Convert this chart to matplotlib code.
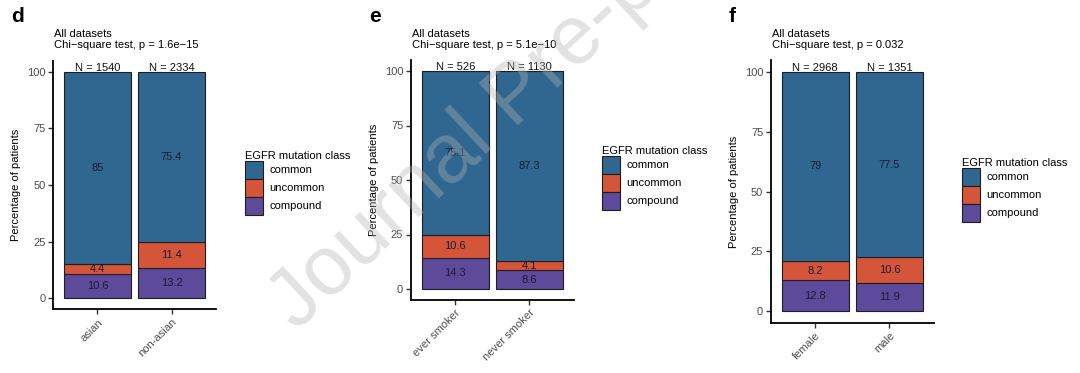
import numpy as np
import matplotlib
matplotlib.use("Agg")
import matplotlib.pyplot as plt
from matplotlib.patches import Patch

plt.rcParams['font.family'] = ['Liberation Sans', 'DejaVu Sans']

# ─── data ────────────────────────────────────────────────────────────────────
CLASSES = ['compound', 'uncommon', 'common']   # stacking order, bottom -> top
CLASS_COLORS = {'common': '#2f6790', 'uncommon': '#d4553a', 'compound': '#5e4a9b'}

groups_d = ['asian', 'non-asian']
n_d = [1540, 2334]
compound_d = [10.6, 13.2]
uncommon_d = [4.4, 11.4]
common_d = [85, 75.4]
pval_d = '1.6e−15'

groups_e = ['ever smoker', 'never smoker']
n_e = [526, 1130]
compound_e = [14.3, 8.6]
uncommon_e = [10.6, 4.1]
common_e = [75.1, 87.3]
pval_e = '5.1e−10'

groups_f = ['female', 'male']
n_f = [2968, 1351]
compound_f = [12.8, 11.9]
uncommon_f = [8.2, 10.6]
common_f = [79, 77.5]
pval_f = '0.032'

W, H = 1080, 373
FS = 8


def fx(x):
    return x / W


def fy(y):
    return 1 - y / H


def panel(fig, box, letter, groups, ns, compound, uncommon, common, pval, legend_xy):
    left, right, top, bottom = box
    ax = fig.add_axes([fx(left), fy(bottom), fx(right - left), (bottom - top) / H])
    x = np.arange(1, len(groups) + 1)
    stacks = {'compound': compound, 'uncommon': uncommon, 'common': common}
    base = np.zeros(len(groups))
    for cls in CLASSES:
        vals = np.array(stacks[cls], dtype=float)
        ax.bar(x, vals, bottom=base, width=0.9, color=CLASS_COLORS[cls],
               edgecolor='#1e1e1e', linewidth=0.8, zorder=2)
        for xi, b, v in zip(x, base, vals):
            ax.text(xi, b + v / 2, f'{v:g}', ha='center', va='center',
                    fontsize=FS, color='#1b1b35', zorder=3)
        base = base + vals
    for xi, n in zip(x, ns):
        ax.text(xi, 100.6, f'N = {n}', ha='center', va='baseline',
                fontsize=FS, color='#111111')

    ax.set_xlim(0.4, len(groups) + 0.6)
    ax.set_ylim(-5, 105)
    ax.set_yticks([0, 25, 50, 75, 100])
    ax.set_xticks(x)
    ax.set_xticklabels(groups, rotation=45, ha='right', va='top',
                       rotation_mode='anchor')
    for s in ('top', 'right'):
        ax.spines[s].set_visible(False)
    for s in ('left', 'bottom'):
        ax.spines[s].set_linewidth(1.3)
        ax.spines[s].set_color('black')
    ax.tick_params(axis='both', length=3.5, width=1.0, color='#333333',
                   labelsize=FS, labelcolor='#4d4d4d', pad=2)

    # titles, panel letter, y label
    fig.text(fx(left + 1), fy(34), 'All datasets', fontsize=FS, va='center', ha='left')
    fig.text(fx(left + 1), fy(45), f'Chi−square test, p = {pval}', fontsize=FS,
             va='center', ha='left')
    fig.text(fx(left - 42), fy(16), letter, fontsize=15, fontweight='bold',
             va='center', ha='left')
    fig.text(fx(left - 37), fy((top + bottom) / 2), 'Percentage of patients',
             fontsize=FS, rotation=90, va='center', ha='center')

    handles = [Patch(facecolor=CLASS_COLORS[c], edgecolor='#1e1e1e', linewidth=0.8, label=c)
               for c in ['common', 'uncommon', 'compound']]
    ax.legend(handles=handles, title='EGFR mutation class', loc='upper left',
              bbox_to_anchor=(fx(legend_xy[0]), fy(legend_xy[1])),
              bbox_transform=fig.transFigure, frameon=False, fontsize=FS,
              title_fontsize=FS, borderpad=0, borderaxespad=0, labelspacing=0,
              handlelength=1.62, handleheight=2.115, handletextpad=0.55,
              alignment='left')
    return ax


fig = plt.figure(figsize=(W / 100, H / 100), dpi=100)

panel(fig, (53, 216, 60.7, 309.3), 'd', groups_d, n_d, compound_d, uncommon_d,
      common_d, pval_d, (245, 151))
panel(fig, (410.8, 574, 60.1, 299.9), 'e', groups_e, n_e, compound_e, uncommon_e,
      common_e, pval_e, (602, 146))
panel(fig, (770.8, 934, 60, 323), 'f', groups_f, n_f, compound_f, uncommon_f,
      common_f, pval_f, (962, 158))

# watermark
fig.text(fx(296), fy(332), 'Journal Pre-proof', fontsize=60, color='#b4b4b4',
         alpha=0.38, rotation=43, rotation_mode='anchor', ha='left', va='baseline',
         zorder=10)

fig.savefig('out.png', dpi=100)
